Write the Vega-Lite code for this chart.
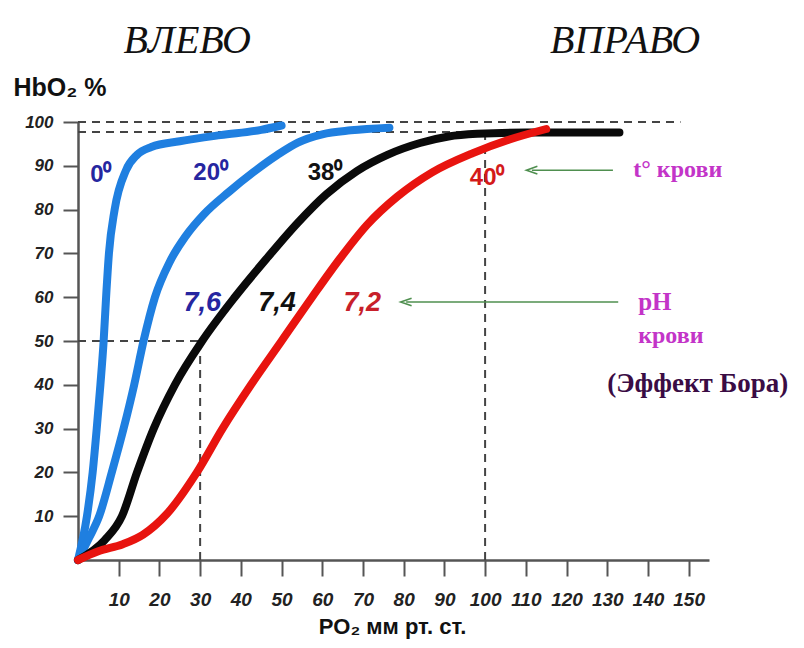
{
  "$schema": "https://vega.github.io/schema/vega-lite/v6.json",
  "autosize": {"type": "none"},
  "padding": {"left": 78, "top": 122, "right": 95, "bottom": 88},
  "width": 631,
  "height": 438,
  "background": "white",
  "config": {"view": {"stroke": null}},
  "datasets": {
    "curves": [
      {"c": "0", "x": 0, "y": 0}, {"c": "0", "x": 2.2, "y": 10}, {"c": "0", "x": 3.6, "y": 20}, {"c": "0", "x": 4.6, "y": 30}, {"c": "0", "x": 5.5, "y": 40}, {"c": "0", "x": 6.3, "y": 50}, {"c": "0", "x": 6.9, "y": 60}, {"c": "0", "x": 7.6, "y": 70}, {"c": "0", "x": 9.0, "y": 80}, {"c": "0", "x": 11.8, "y": 89}, {"c": "0", "x": 14.5, "y": 92.5}, {"c": "0", "x": 18, "y": 94.3}, {"c": "0", "x": 25, "y": 95.6}, {"c": "0", "x": 35, "y": 97}, {"c": "0", "x": 45, "y": 98.2}, {"c": "0", "x": 50, "y": 99.2},
      {"c": "20", "x": 0, "y": 0}, {"c": "20", "x": 2.7, "y": 5}, {"c": "20", "x": 5.2, "y": 10}, {"c": "20", "x": 8.3, "y": 20}, {"c": "20", "x": 11.2, "y": 30}, {"c": "20", "x": 13.8, "y": 40}, {"c": "20", "x": 16.1, "y": 50}, {"c": "20", "x": 18.9, "y": 60}, {"c": "20", "x": 22.5, "y": 68}, {"c": "20", "x": 26.5, "y": 74}, {"c": "20", "x": 31, "y": 79}, {"c": "20", "x": 37, "y": 84}, {"c": "20", "x": 43, "y": 88.5}, {"c": "20", "x": 49, "y": 92.5}, {"c": "20", "x": 54, "y": 95.3}, {"c": "20", "x": 60, "y": 97.2}, {"c": "20", "x": 67, "y": 98.1}, {"c": "20", "x": 76.5, "y": 98.7},
      {"c": "38", "x": 0, "y": 0}, {"c": "38", "x": 6.5, "y": 4.5}, {"c": "38", "x": 10.8, "y": 10}, {"c": "38", "x": 14.5, "y": 20}, {"c": "38", "x": 18.6, "y": 30}, {"c": "38", "x": 23.8, "y": 40}, {"c": "38", "x": 30.5, "y": 50}, {"c": "38", "x": 38.5, "y": 60}, {"c": "38", "x": 46.5, "y": 69}, {"c": "38", "x": 54, "y": 77}, {"c": "38", "x": 61, "y": 83.5}, {"c": "38", "x": 68.5, "y": 88.8}, {"c": "38", "x": 76, "y": 92.5}, {"c": "38", "x": 84, "y": 95.2}, {"c": "38", "x": 91, "y": 96.7}, {"c": "38", "x": 98, "y": 97.3}, {"c": "38", "x": 110, "y": 97.6}, {"c": "38", "x": 133, "y": 97.6},
      {"c": "40", "x": 0, "y": 0}, {"c": "40", "x": 5, "y": 2}, {"c": "40", "x": 11, "y": 3.6}, {"c": "40", "x": 16, "y": 5.8}, {"c": "40", "x": 21.8, "y": 10.5}, {"c": "40", "x": 29.2, "y": 20}, {"c": "40", "x": 35.5, "y": 30}, {"c": "40", "x": 42.5, "y": 40}, {"c": "40", "x": 50, "y": 50}, {"c": "40", "x": 57.5, "y": 60}, {"c": "40", "x": 64.5, "y": 69}, {"c": "40", "x": 71, "y": 76.5}, {"c": "40", "x": 78.5, "y": 83}, {"c": "40", "x": 87, "y": 88.5}, {"c": "40", "x": 97, "y": 92.9}, {"c": "40", "x": 106, "y": 96}, {"c": "40", "x": 115, "y": 98.4}
    ],
    "dashes": [
      {"x": 0, "x2": 148, "y": 100, "y2": 100},
      {"x": 0, "x2": 100, "y": 97.7, "y2": 97.7},
      {"x": 0, "x2": 30, "y": 50, "y2": 50},
      {"x": 30, "x2": 30, "y": 0, "y2": 50},
      {"x": 100, "x2": 100, "y": 0, "y2": 97.7}
    ],
    "arrows": [
      {"x": 111.5, "x2": 131.4, "y": 89, "y2": 89},
      {"x": 80.6, "x2": 132.7, "y": 58.9, "y2": 58.9}
    ],
    "labels": [
      {"t": "0⁰", "x": 5.6, "y": 87.8, "col": "#2626a0"},
      {"t": "20⁰", "x": 32.6, "y": 88.4, "col": "#2626a0"},
      {"t": "38⁰", "x": 60.7, "y": 88.4, "col": "#111111"},
      {"t": "40⁰", "x": 100.5, "y": 87.3, "col": "#d41a1a"}
    ],
    "ph": [
      {"t": "7,6", "x": 30.5, "y": 58.7, "col": "#2626a0"},
      {"t": "7,4", "x": 48.9, "y": 58.7, "col": "#111111"},
      {"t": "7,2", "x": 69.8, "y": 58.7, "col": "#c8202a"}
    ],
    "notes": [
      {"t": "t° крови", "x": 136.4, "y": 89, "col": "#c334c8", "s": 24},
      {"t": "pH", "x": 137.6, "y": 58.9, "col": "#c334c8", "s": 25},
      {"t": "крови", "x": 137.6, "y": 51.1, "col": "#c334c8", "s": 24},
      {"t": "(Эффект Бора)", "x": 130.0, "y": 40.2, "col": "#3a0c44", "s": 27}
    ],
    "heads": [
      {"t": "ВЛЕВО", "x": 26.8, "y": 115.8},
      {"t": "ВПРАВО", "x": 134.4, "y": 115.8}
    ]
  },
  "layer": [
    {
      "data": {"name": "dashes"},
      "mark": {"type": "rule", "color": "#444444", "strokeWidth": 2, "strokeDash": [8, 6]},
      "encoding": {
        "x": {"field": "x", "type": "quantitative", "scale": {"domain": [0, 155], "nice": false, "zero": false},
          "axis": {"values": [10,20,30,40,50,60,70,80,90,100,110,120,130,140,150], "title": "PO₂  мм рт. ст.", "grid": false,
            "domainColor": "#555555", "domainWidth": 2.5, "tickColor": "#555555", "tickWidth": 2, "tickSize": 16,
            "labelFont": "Liberation Sans", "labelFontWeight": "bold", "labelFontStyle": "italic", "labelFontSize": 19, "labelColor": "#222222", "labelPadding": 14,
            "titleFont": "Liberation Sans", "titleFontWeight": "bold", "titleFontSize": 22, "titleColor": "#111111", "titleBaseline": "alphabetic", "titleY": 73, "titleX": 314}},
        "x2": {"field": "x2"},
        "y": {"field": "y", "type": "quantitative", "scale": {"domain": [0, 100], "nice": false, "zero": false},
          "axis": {"values": [10,20,30,40,50,60,70,80,90,100], "title": "HbO₂  %", "grid": false,
            "domainColor": "#555555", "domainWidth": 2.5, "tickColor": "#555555", "tickWidth": 2, "tickSize": 15,
            "labelFont": "Liberation Sans", "labelFontWeight": "bold", "labelFontStyle": "italic", "labelFontSize": 17, "labelColor": "#222222", "labelPadding": 10,
            "titleFont": "Liberation Sans", "titleFontWeight": "bold", "titleFontSize": 25, "titleColor": "#111111", "titleAngle": 0, "titleAlign": "left", "titleBaseline": "alphabetic", "titleX": -65, "titleY": -27}},
        "y2": {"field": "y2"}
      }
    },
    {
      "data": {"name": "curves"},
      "mark": {"type": "line", "interpolate": "monotone", "strokeCap": "round", "strokeJoin": "round"},
      "encoding": {
        "x": {"field": "x", "type": "quantitative"},
        "y": {"field": "y", "type": "quantitative"},
        "detail": {"field": "c"},
        "color": {"field": "c", "type": "nominal", "scale": {"domain": ["0", "20", "38", "40"], "range": ["#1f7fe0", "#1f7fe0", "#0a0a0a", "#e8140f"]}, "legend": null},
        "strokeWidth": {"field": "c", "type": "nominal", "scale": {"domain": ["0", "20", "38", "40"], "range": [8, 8, 6, 8]}, "legend": null}
      }
    },
    {
      "data": {"name": "arrows"},
      "mark": {"type": "rule", "color": "#4f8f4f", "strokeWidth": 1.6},
      "encoding": {
        "x": {"field": "x", "type": "quantitative"},
        "x2": {"field": "x2"},
        "y": {"field": "y", "type": "quantitative"},
        "y2": {"field": "y2"}
      }
    },
    {
      "data": {"name": "arrows"},
      "mark": {"type": "point", "shape": "M1,-0.7L-1,0L1,0.7", "filled": false, "stroke": "#4f8f4f", "strokeWidth": 1.6, "size": 120, "opacity": 1},
      "encoding": {
        "x": {"field": "x", "type": "quantitative"},
        "y": {"field": "y", "type": "quantitative"}
      }
    },
    {
      "data": {"name": "labels"},
      "mark": {"type": "text", "font": "Liberation Sans", "fontWeight": "bold", "fontSize": 24, "align": "center", "baseline": "middle"},
      "encoding": {
        "x": {"field": "x", "type": "quantitative"},
        "y": {"field": "y", "type": "quantitative"},
        "text": {"field": "t"},
        "color": {"field": "col", "type": "nominal", "scale": null}
      }
    },
    {
      "data": {"name": "ph"},
      "mark": {"type": "text", "font": "Liberation Sans", "fontWeight": "bold", "fontStyle": "italic", "fontSize": 27, "align": "center", "baseline": "middle"},
      "encoding": {
        "x": {"field": "x", "type": "quantitative"},
        "y": {"field": "y", "type": "quantitative"},
        "text": {"field": "t"},
        "color": {"field": "col", "type": "nominal", "scale": null}
      }
    },
    {
      "data": {"name": "notes"},
      "mark": {"type": "text", "font": "Liberation Serif, DejaVu Serif, serif", "fontWeight": "bold", "align": "left", "baseline": "middle"},
      "encoding": {
        "x": {"field": "x", "type": "quantitative"},
        "y": {"field": "y", "type": "quantitative"},
        "text": {"field": "t"},
        "color": {"field": "col", "type": "nominal", "scale": null},
        "size": {"field": "s", "type": "quantitative", "scale": null}
      }
    },
    {
      "data": {"name": "heads"},
      "mark": {"type": "text", "font": "Liberation Serif, DejaVu Serif, serif", "fontStyle": "italic", "fontSize": 40, "align": "center", "baseline": "alphabetic", "color": "#111111"},
      "encoding": {
        "x": {"field": "x", "type": "quantitative"},
        "y": {"field": "y", "type": "quantitative"},
        "text": {"field": "t"}
      }
    }
  ]
}
